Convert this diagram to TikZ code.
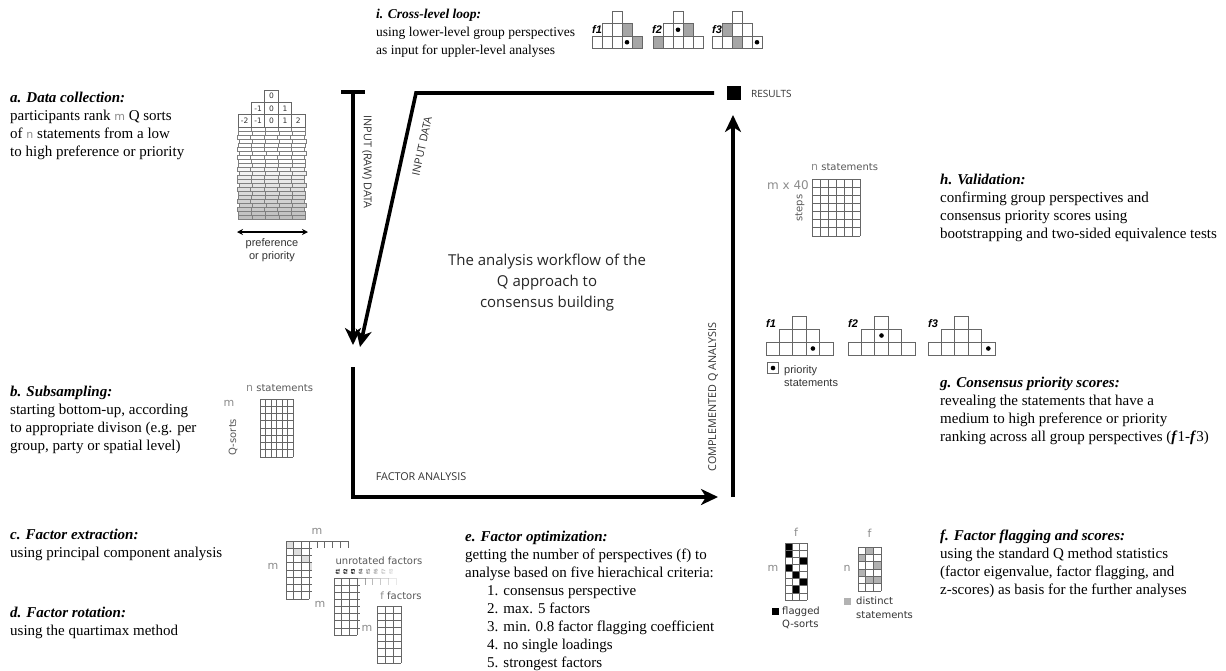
\documentclass[tikz,border=0pt]{standalone}
\usepackage{fontspec}
\setmainfont{Liberation Serif}
\newfontfamily\osans{Open Sans}
\newfontfamily\dvs{DejaVu Sans}
\newfontfamily\lsans{Liberation Sans}
\usetikzlibrary{arrows.meta}
\definecolor{mgray}{gray}{0.55}
\definecolor{lcol}{gray}{0.35}
\newcommand\grm{{\dvs\fontsize{11}{18}\selectfont\color{mgray}m}}
\newcommand\grn{{\dvs\fontsize{11}{18}\selectfont\color{mgray}n}}
% pyramid grid: x0, ytop, w, h
\newcommand\qpyr[4]{%
  \draw[cellline] ({#1+2*#3},{#2}) rectangle ++(#3,#4);
  \foreach \cc in {1,2,3} {\draw[cellline] ({#1+\cc*#3},{#2+#4}) rectangle ++(#3,#4);}
  \foreach \cc in {0,...,4} {\draw[cellline] ({#1+\cc*#3},{#2+2*#4}) rectangle ++(#3,#4);}}
% fill one cell: x0, ytop, w, h, col, row, style
\newcommand\qfill[7]{\fill[#7] ({#1+#5*#3},{#2+#6*#4}) rectangle ++(#3,#4);}
% dot in a cell
\newcommand\qdot[6]{\fill ({#1+(#5+0.5)*#3},{#2+(#6+0.5)*#4}) circle (2.3);}
% rectangular grid: x0, ytop, w, h, ncols, nrows
\newcommand\qgrid[6]{%
  \foreach \cc in {0,...,#5} {\draw[cellline] ({#1+\cc*#3},{#2}) -- ++(0,{#6*#4});}
  \foreach \rr in {0,...,#6} {\draw[cellline] ({#1},{#2+\rr*#4}) -- ++({#5*#3},0);}}
\tikzset{
  cellline/.style={line width=0.7pt, draw=black!60},
  body/.style={font=\fontsize{15}{18}\selectfont, anchor=north west, inner sep=0pt, align=left},
  thickline/.style={line width=3.6pt, line join=miter},
  bigtip/.style={-{Stealth[length=17pt,width=16pt,inset=5pt]}},
  flowlab/.style={font=\osans\fontsize{10.8}{12}\selectfont, text=black!80, inner sep=0pt},
  dvlab/.style={font=\dvs\fontsize{10}{12}\selectfont, text=lcol, inner sep=0pt},
  gvar/.style={font=\dvs\fontsize{11}{12}\selectfont, text=mgray, inner sep=0pt},
  arlab/.style={font=\lsans\fontsize{11}{13}\selectfont, text=black!80, inner sep=0pt},
  flabel/.style={font=\lsans\bfseries\itshape\fontsize{11}{12}\selectfont, anchor=base west, inner sep=0pt},
  plab/.style={font=\dvs\fontsize{7.5}{8}\selectfont, inner sep=0pt, text=black!80},
}
\begin{document}
\begin{tikzpicture}[x=1pt,y=-1pt]
\useasboundingbox (0,0) rectangle (1226,670);
\fill[white] (0,0) rectangle (1226,670);

% ---------------- texts ----------------
\node[body, font=\fontsize{13.5}{18}\selectfont] (ti) at (376,9) {\textbf{\textit{i. Cross-level loop:}}\\using lower-level group perspectives\\as input for uppler-level analyses};
\node[body] (ta) at (10,91.5) {\textbf{\textit{a. Data collection:}}\\participants rank \grm\ Q sorts\\of \grn\ statements from a low\\to high preference or priority};
\node[body] (tb) at (10,385.5) {\textbf{\textit{b. Subsampling:}}\\starting bottom-up, according\\to appropriate divison (e.g. per\\group, party or spatial level)};
\node[body] (tc) at (10,528.5) {\textbf{\textit{c. Factor extraction:}}\\using principal component analysis};
\node[body] (td) at (10,606.5) {\textbf{\textit{d. Factor rotation:}}\\using the quartimax method};
\node[body] (te) at (465,530.5) {\textbf{\textit{e. Factor optimization:}}\\getting the number of perspectives (f) to\\analyse based on five hierachical criteria:\\\hspace*{22pt}1. consensus perspective\\\hspace*{22pt}2. max. 5 factors\\\hspace*{22pt}3. min. 0.8 factor flagging coefficient\\\hspace*{22pt}4. no single loadings\\\hspace*{22pt}5. strongest factors};
\node[body] (tf) at (940,529.5) {\textbf{\textit{f. Factor flagging and scores:}}\\using the standard Q method statistics\\(factor eigenvalue, factor flagging, and\\z-scores) as basis for the further analyses};
\node[body] (tg) at (940,376.5) {\textbf{\textit{g. Consensus priority scores:}}\\revealing the statements that have a\\medium to high preference or priority\\ranking across all group perspectives (\textbf{\textit{f}}1-\textbf{\textit{f}}3)};
\node[body] (th) at (940,173.5) {\textbf{\textit{h. Validation:}}\\confirming group perspectives and\\consensus priority scores using\\bootstrapping and two-sided equivalence tests};

\node[font=\osans\fontsize{15}{21}\selectfont, text=black!85, align=center, inner sep=0pt] (centre) at (547,283) {The analysis workflow of the\\Q approach to\\consensus building};

% ---------------- main flow ----------------
\coordinate (tbarL) at (341,92);
\coordinate (tbarR) at (365,92);
\coordinate (rawtop) at (353,92);
\coordinate (rawend) at (353,345);
\coordinate (resline) at (714,93);
\coordinate (corner) at (416,93);
\coordinate (diagend) at (360,347);
\coordinate (fastart) at (353,367);
\coordinate (facorner) at (353,497);
\coordinate (faend) at (718,497);
\coordinate (cqstart) at (733,497);
\coordinate (cqend) at (733,115);

\draw[thickline] (tbarL) -- (tbarR);
\draw[thickline,bigtip] (rawtop) -- (rawend);
\draw[thickline,bigtip] (resline) -- (corner) -- (diagend);
\draw[thickline,bigtip] (fastart) -- (facorner) -- (faend);
\draw[thickline,bigtip] (cqstart) -- (cqend);

\node[fill=black, minimum size=14pt, inner sep=0pt] (res) at (733.5,93) {};
\node[flowlab, anchor=west, font=\osans\fontsize{10}{12}\selectfont] (reslab) at (751,93.5) {RESULTS};
\node[flowlab, rotate=-90] (rawlab) at (367,162) {INPUT (RAW) DATA};
\node[flowlab, rotate=77.6] (inlab) at (422,146) {INPUT DATA};
\node[flowlab] (falab) at (421,477) {FACTOR ANALYSIS};
\node[flowlab, rotate=90] (cqlab) at (713,397) {COMPLEMENTED Q ANALYSIS};

% ---------------- i. top pyramids ----------------
\qfill{592}{11}{10}{12.5}{3}{1}{gray!70}
\qfill{592}{11}{10}{12.5}{4}{2}{gray!70}
\qpyr{592}{11}{10}{12.5}
\qdot{592}{11}{10}{12.5}{3}{2}
\node[flabel] (if1) at (592,33) {f1};
\qfill{653}{11}{10}{12.5}{3}{1}{gray!70}
\qfill{653}{11}{10}{12.5}{0}{2}{gray!70}
\qpyr{653}{11}{10}{12.5}
\qdot{653}{11}{10}{12.5}{2}{1}
\node[flabel] (if2) at (652,33) {f2};
\qfill{712}{11}{10}{12.5}{1}{1}{gray!70}
\qfill{712}{11}{10}{12.5}{2}{2}{gray!70}
\qpyr{712}{11}{10}{12.5}
\qdot{712}{11}{10}{12.5}{4}{2}
\node[flabel] (if3) at (712,33) {f3};

% ---------------- a. stacked Q sorts ----------------
\foreach \i in {0,...,22} {
  \pgfmathsetmacro\yy{127+\i*4.0}
  \pgfmathsetmacro\oo{1.0*sin(\i*137)}
  \pgfmathsetmacro\sh{max(0,min(50,(\i-8)*3.6))}
  \foreach \cc in {0,...,4} {\draw[line width=0.45pt, draw=black!50, fill=gray!\sh] ({238+\oo+\cc*13.4},\yy) rectangle ++(13.4,4);}
}
\qpyr{238}{90}{13.4}{12.3}
\foreach \lab [count=\k from 0] in {-2,-1,0,1,2} {\node[plab] (pb\k) at ({238+(\k+0.5)*13.4},121) {\lab};}
\foreach \lab [count=\k from 1] in {-1,0,1} {\node[plab] (pm\k) at ({238+(\k+0.5)*13.4},108.5) {\lab};}
\node[plab] (pt) at ({238+2.5*13.4},96) {0};
\coordinate (prefL) at (237,232);
\coordinate (prefR) at (308,232);
\draw[line width=1.3pt, {Stealth[length=6pt,width=6pt]}-{Stealth[length=6pt,width=6pt]}] (prefL) -- (prefR);
\node[arlab, align=center] (preflab) at (272,250) {preference\\or priority};

% ---------------- b. subsample grid ----------------
\qgrid{260}{399}{5.5}{7.25}{6}{8}
\node[dvlab, anchor=west] (bn) at (246,388) {\grn\ statements};
\node[gvar] (bm) at (229,403) {m};
\node[dvlab, rotate=90] (bq) at (233,437) {Q-sorts};

% ---------------- c/d matrices ----------------
\qfill{286}{541}{7.75}{7.25}{0}{0}{gray!25}
\qfill{286}{541}{7.75}{7.25}{1}{1}{gray!25}
\qfill{286}{541}{7.75}{7.25}{2}{2}{gray!25}
\fill[gray!25] (309.25,562.75) rectangle (312,570);
\qgrid{286}{541}{7.75}{7.25}{3}{8}
\draw[cellline] (309.25,541) -- (348,541);
\foreach \cc in {4,...,8} {\draw[cellline] ({286+\cc*7.75},541) -- ++(0,7.25);}
\foreach \rr in {1,...,7} {\draw[cellline] (309.25,{541+\rr*7.25}) -- ++(3,0);}
\node[gvar] (m1t) at (317,531) {m};
\node[gvar] (m1l) at (273,566) {m};
\node[gvar] (m1b) at (320,604) {m};

\qgrid{334}{578}{7.75}{7.125}{3}{8}
\foreach \cc/\op in {3/0.6,4/0.45,5/0.35,6/0.25,7/0.15} {\draw[cellline, opacity=\op] ({334+\cc*7.75},578) -- ++(7.75,0) -- ++(0,7.125);}
\foreach \rr in {1,...,7} {\draw[cellline] (357.25,{578+\rr*7.125}) -- ++(3,0);}
\foreach \k/\op in {1/1,2/1,3/1,4/0.6,5/0.45,6/0.35,7/0.25,8/0.15} {\node[font=\dvs\bfseries\fontsize{5}{5}\selectfont, inner sep=0pt, rotate=90, opacity=\op] (fl\k) at ({334+(\k-0.5)*7.6},572) {f\k};}
\node[dvlab] (unrot) at (379,561) {unrotated factors};
\node[gvar] (m2r) at (367,628) {m};

\qgrid{377}{606}{8}{7.125}{3}{8}
\node[dvlab] (ffac) at (401,596) {{\color{mgray}f} factors};

% ---------------- f. flagging grids ----------------
\foreach \cc/\rr in {0/0,0/1,2/2,0/3,1/4,2/5,1/6} {\qfill{785}{543}{7.33}{7.125}{\cc}{\rr}{black}}
\qgrid{785}{543}{7.33}{7.125}{3}{8}
\node[gvar] (ff1) at (796,532) {f};
\node[gvar] (fm) at (773,568) {m};
\foreach \cc/\rr in {1/0,0/1,2/2,0/3,1/4,2/4} {\qfill{858}{547}{7.67}{7.33}{\cc}{\rr}{gray!60}}
\qgrid{858}{547}{7.67}{7.33}{3}{6}
\node[gvar] (ff2) at (869.5,533) {f};
\node[gvar] (fn) at (847,568) {n};
\node[fill=black, minimum size=7pt, inner sep=0pt] (legflag) at (775.5,611) {};
\node[dvlab, anchor=west, align=left, text=black!80, font=\dvs\fontsize{10}{12.5}\selectfont] (flagtxt) at (782,618) {flagged\\Q-sorts};
\node[fill=gray!60, minimum size=7pt, inner sep=0pt] (legdist) at (847.5,601.5) {};
\node[dvlab, anchor=west, align=left, text=black!80, font=\dvs\fontsize{10}{13.5}\selectfont] (disttxt) at (856,608) {distinct\\statements};

% ---------------- g. priority pyramids ----------------
\qpyr{766}{316}{13.4}{13}
\qdot{766}{316}{13.4}{13}{3}{2}
\node[flabel] (gf1) at (766,327) {f1};
\qpyr{848}{316}{13.4}{13}
\qdot{848}{316}{13.4}{13}{2}{1}
\node[flabel] (gf2) at (848,327) {f2};
\qpyr{928}{316}{13.4}{13}
\qdot{928}{316}{13.4}{13}{4}{2}
\node[flabel] (gf3) at (928,327) {f3};
\node[draw=black!60, line width=0.7pt, minimum size=11pt, inner sep=0pt] (legbox) at (773,368) {};
\fill (legbox.center) circle (2.3);
\node[arlab, anchor=west, align=left] (prioleg) at (784,376.5) {priority\\statements};

% ---------------- h. validation grid ----------------
\qgrid{812}{179}{8}{8.14}{6}{7}
\node[dvlab, anchor=west] (hn) at (811,167) {\grn\ statements};
\node[gvar, anchor=east, font=\dvs\fontsize{12}{12}\selectfont] (hm) at (809,185) {m x 40};
\node[dvlab, rotate=90] (hs) at (800,208) {steps};
\end{tikzpicture}
\end{document}
